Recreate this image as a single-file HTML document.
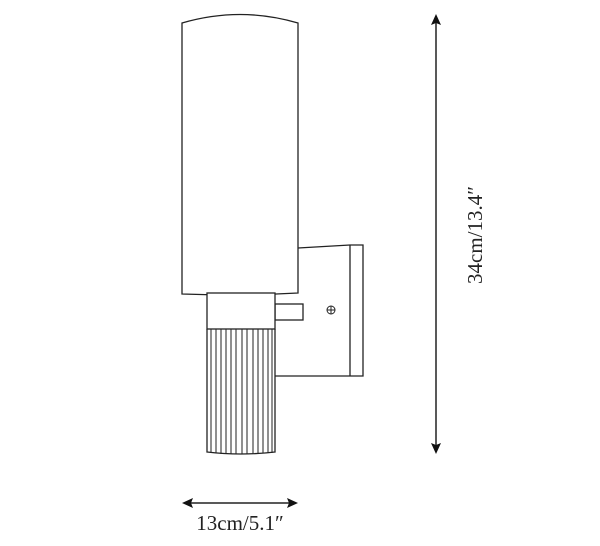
<!DOCTYPE html>
<html><head><meta charset="utf-8"><style>html,body{margin:0;padding:0;background:#fff;width:600px;height:546px;overflow:hidden}</style></head>
<body>
<svg width="600" height="546" viewBox="0 0 600 546" xmlns="http://www.w3.org/2000/svg">
<g fill="none" stroke="#222" stroke-width="1.3">
<path d="M182,294 L182,23 Q240,6 298,23 L298,293 Q240,296 182,294 Z" fill="#fff"/>
<path d="M298,248 L350,245 L363,245 L363,376 L275,376"/>
<line x1="350" y1="245" x2="350" y2="376"/>
<rect x="275" y="304" width="28" height="16"/>
<circle cx="331" cy="310" r="4" stroke-width="1"/>
<line x1="327" y1="310" x2="335" y2="310" stroke-width="1"/>
<line x1="331" y1="306" x2="331" y2="314" stroke-width="1"/>
<rect x="207" y="293" width="68" height="36" fill="#fff"/>
<path d="M207,329 L207,452 Q241,456 275,452 L275,329"/>
<g stroke-width="1">
<line x1="211" y1="329" x2="211" y2="453"/><line x1="216" y1="329" x2="216" y2="453"/>
<line x1="221" y1="329" x2="221" y2="454"/><line x1="226" y1="329" x2="226" y2="454"/>
<line x1="231" y1="329" x2="231" y2="454"/><line x1="236" y1="329" x2="236" y2="454"/>
<line x1="242" y1="329" x2="242" y2="454"/><line x1="247" y1="329" x2="247" y2="454"/>
<line x1="253" y1="329" x2="253" y2="454"/><line x1="258" y1="329" x2="258" y2="454"/>
<line x1="263" y1="329" x2="263" y2="453"/><line x1="268" y1="329" x2="268" y2="453"/>
<line x1="272" y1="329" x2="272" y2="453"/>
</g>
<line x1="436" y1="20" x2="436" y2="448" stroke-width="1.5"/>
<line x1="188" y1="503" x2="292" y2="503" stroke-width="1.5"/>
</g>
<g fill="#111">
<path d="M436,14 L431,25 L436,23 L441,25 Z"/>
<path d="M436,454 L431,443 L436,445 L441,443 Z"/>
<path d="M182,503 L193,498 L191,503 L193,508 Z"/>
<path d="M298,503 L287,498 L289,503 L287,508 Z"/>
</g>
<text x="240" y="530" text-anchor="middle" font-family="Liberation Serif, serif" font-size="21" fill="#222">13cm/5.1″</text>
<text transform="translate(482,235) rotate(-90)" text-anchor="middle" font-family="Liberation Serif, serif" font-size="21" fill="#222">34cm/13.4″</text>
</svg>
</body></html>
